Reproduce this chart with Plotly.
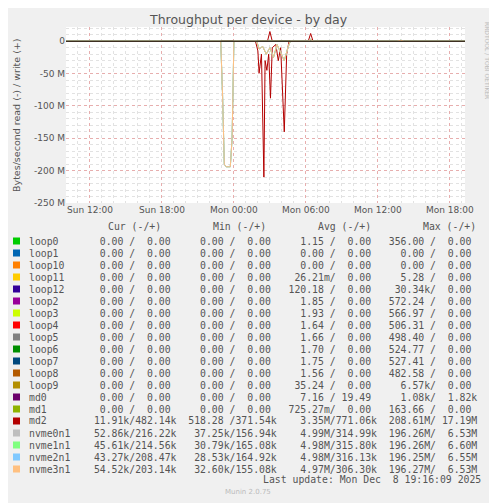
import plotly.graph_objects as go
from datetime import datetime, timedelta

BASE = datetime(2025, 12, 7)
T_START, T_END = 10.0, 43.27  # hours after Sun 00:00

names = ["loop0","loop1","loop10","loop11","loop12","loop2","loop3","loop4","loop5","loop6",
         "loop7","loop8","loop9","md0","md1","md2","nvme0n1","nvme1n1","nvme2n1","nvme3n1"]
colors = ["#00CC00","#0066B3","#FF8000","#FFCC00","#330099","#990099","#CCFF00","#FF0000","#808080","#008F00",
          "#00487D","#B35A00","#B38F00","#6B006B","#8FB300","#B30000","#BEBEBE","#80FF80","#80C9FF","#FFC080"]
cur = ["  0.00 /  0.00 "]*15 + [" 11.91k/482.14k"," 52.86k/216.22k"," 45.61k/214.56k"," 43.27k/208.47k"," 54.52k/203.14k"]
mins = ["  0.00 /  0.00 "]*15 + ["518.28 /371.54k"," 37.25k/156.94k"," 30.79k/165.08k"," 28.53k/164.92k"," 32.60k/155.08k"]
avgs = ["  1.15 /  0.00 ","  0.00 /  0.00 ","  0.00 /  0.00 "," 26.21m/  0.00 ","120.18 /  0.00 ","  1.85 /  0.00 ",
        "  1.93 /  0.00 ","  1.64 /  0.00 ","  1.66 /  0.00 ","  1.70 /  0.00 ","  1.75 /  0.00 ","  1.56 /  0.00 ",
        " 35.24 /  0.00 ","  7.16 / 19.49 ","725.27m/  0.00 ","  3.35M/771.06k","  4.99M/314.99k","  4.98M/315.80k",
        "  4.98M/316.13k","  4.97M/306.30k"]
maxs = ["356.00 /  0.00 ","  0.00 /  0.00 ","  0.00 /  0.00 ","  5.28 /  0.00 "," 30.34k/  0.00 ","572.24 /  0.00 ",
        "566.97 /  0.00 ","506.31 /  0.00 ","498.40 /  0.00 ","524.77 /  0.00 ","527.41 /  0.00 ","482.58 /  0.00 ",
        "  6.57k/  0.00 ","  1.08k/  1.82k","163.66 /  0.00 ","208.61M/ 17.19M","196.26M/  6.53M","196.26M/  6.60M",
        "196.25M/  6.55M","196.27M/  6.53M"]

# event data (hours, bytes/s)
nvme_read_t = [T_START, 22.9, 23.05, 23.2, 23.35, 23.7, 23.85, 24.0, 25.9, 26.1, 26.4, 26.7, 27.0, 27.3, 27.6, 27.9, 28.2, 28.5, 28.7, T_END]
nvme_read_v = [0, 0, 80e6, 190e6, 194e6, 194e6, 150e6, 0, 0, 12e6, 8e6, 20e6, 10e6, 25e6, 5e6, 18e6, 30e6, 10e6, 0, 0]
nvme_write_t = [T_START, 30.2, 30.4, 30.6, 37.6, 37.9, 38.2, T_END]
nvme_write_v = [0, 0, 3e6, 0, 0, 1.5e6, 0, 0]
md2_read_t = [T_START, 25.8, 26.0, 26.1, 26.3, 26.5, 26.6, 26.75, 26.9, 27.05, 27.2, 27.5, 27.7, 27.9, 28.2, 28.4, 28.6, T_END]
md2_read_v = [0, 0, 15e6, 49e6, 20e6, 210e6, 30e6, 45e6, 20e6, 88e6, 10e6, 5e6, 30e6, 10e6, 140e6, 20e6, 0, 0]
md2_write_t = [T_START, 26.8, 27.0, 27.2, 30.2, 30.4, 30.6, T_END]
md2_write_v = [0, 0, 15e6, 0, 0, 12e6, 0, 0]

yvals = [0, -50e6, -100e6, -150e6, -200e6, -250e6]
ytext = ["0", "-50 M", "-100 M", "-150 M", "-200 M", "-250 M"]
xvals_h = [12, 18, 24, 30, 36, 42]
xtext = ["Sun 12:00", "Sun 18:00", "Mon 00:00", "Mon 06:00", "Mon 12:00", "Mon 18:00"]

def ts(hs):
    return [BASE + timedelta(hours=h) for h in hs]

fig = go.Figure()
for n, c in zip(names, colors):
    if n.startswith("nvme"):
        rt, rv, wt, wv = nvme_read_t, nvme_read_v, nvme_write_t, nvme_write_v
    elif n == "md2":
        rt, rv, wt, wv = md2_read_t, md2_read_v, md2_write_t, md2_write_v
    else:
        rt, rv, wt, wv = [T_START, T_END], [0, 0], [T_START, T_END], [0, 0]
    fig.add_trace(go.Scatter(x=ts(rt), y=[-v for v in rv], mode="lines", line=dict(color=c, width=1), showlegend=False, hoverinfo="skip"))
    fig.add_trace(go.Scatter(x=ts(wt), y=wv, mode="lines", line=dict(color=c, width=1), showlegend=False, hoverinfo="skip"))

OFF = 8  # page body margin
FW, FH = 497 - OFF, 503 - OFF
L, R, T, B = 66 - OFF, 465 - OFF, 27 - OFF, 203 - OFF
W, H = R - L, B - T
def px(x): return (x - OFF - L) / W
def py(y): return (B - (y - OFF)) / H

mono = "DejaVu Sans Mono"
FS = 9.8
ann = []
def A(text, x, y, xa="center", **kw):
    d = dict(text=text, x=px(x), y=py(y), xanchor=xa, yanchor="middle", showarrow=False, xref="paper", yref="paper")
    d.update(kw)
    ann.append(d)

A("Throughput per device - by day", 248, 19, font=dict(family="DejaVu Sans", size=12.5, color="#555555"))
A("Bytes/second read (-) / write (+)", 16, 115, textangle=-90, font=dict(family="DejaVu Sans", size=9.5, color="#555555"))
A("RRDTOOL / TOBI OETIKER", 488, 60, textangle=90, font=dict(family="DejaVu Sans", size=6, color="#BBBBBB"))
for txt, xx in [("Cur (-/+)", 134), ("Min (-/+)", 239), ("Avg (-/+)", 344), ("Max (-/+)", 449)]:
    A(txt, xx, 227, font=dict(family=mono, size=FS, color="#555555"))
shapes = []
for i, n in enumerate(names):
    yy = 241 + i * 12.0
    row = n.ljust(10) + cur[i] + "  " + mins[i] + "  " + avgs[i] + "  " + maxs[i]
    A(row.rstrip().replace(" ", "\u00a0"), 26.7, yy, xa="left", font=dict(family=mono, size=FS, color="#555555"))
    shapes.append(dict(type="rect", xref="paper", yref="paper", x0=px(13), x1=px(20), y0=py(yy - 3.5), y1=py(yy + 3.5),
                       fillcolor=colors[i], line=dict(width=0)))
shapes.append(dict(type="line", xref="paper", yref="y", x0=0, x1=1, y0=0, y1=0, line=dict(color="#000000", width=1.2), layer="above"))
A("Last update: Mon Dec  8 19:16:09 2025".replace(" ", "\u00a0"), 483, 479, xa="right", font=dict(family=mono, size=FS, color="#555555"))
A("Munin 2.0.75", 248, 492, font=dict(family="DejaVu Sans", size=7, color="#BBBBBB"))

fig.update_layout(
    width=FW, height=FH, margin=dict(l=L, r=FW - R, t=T, b=FH - B, autoexpand=False),
    paper_bgcolor="#F0F0F0", plot_bgcolor="#FFFFFF", annotations=ann, shapes=shapes,
    xaxis=dict(range=ts([T_START, T_END]), tickvals=ts(xvals_h), ticktext=xtext, showgrid=True,
               gridcolor="rgba(235,140,140,0.6)", griddash="dot", gridwidth=1, ticks="", showline=False,
               tickfont=dict(family="DejaVu Sans", size=9, color="#555555"),
               minor=dict(tickvals=ts(list(range(11, 44))), showgrid=True, gridcolor="#E2E2E2", griddash="dot")),
    yaxis=dict(range=[-250e6, 22e6], tickvals=yvals, ticktext=ytext, showgrid=True,
               gridcolor="rgba(235,140,140,0.6)", griddash="dot", zeroline=False,
               ticks="", tickfont=dict(family="DejaVu Sans", size=9, color="#555555"),
               minor=dict(dtick=10e6, showgrid=True, gridcolor="#E2E2E2", griddash="dot")),
)
fig.write_html("out.html")
